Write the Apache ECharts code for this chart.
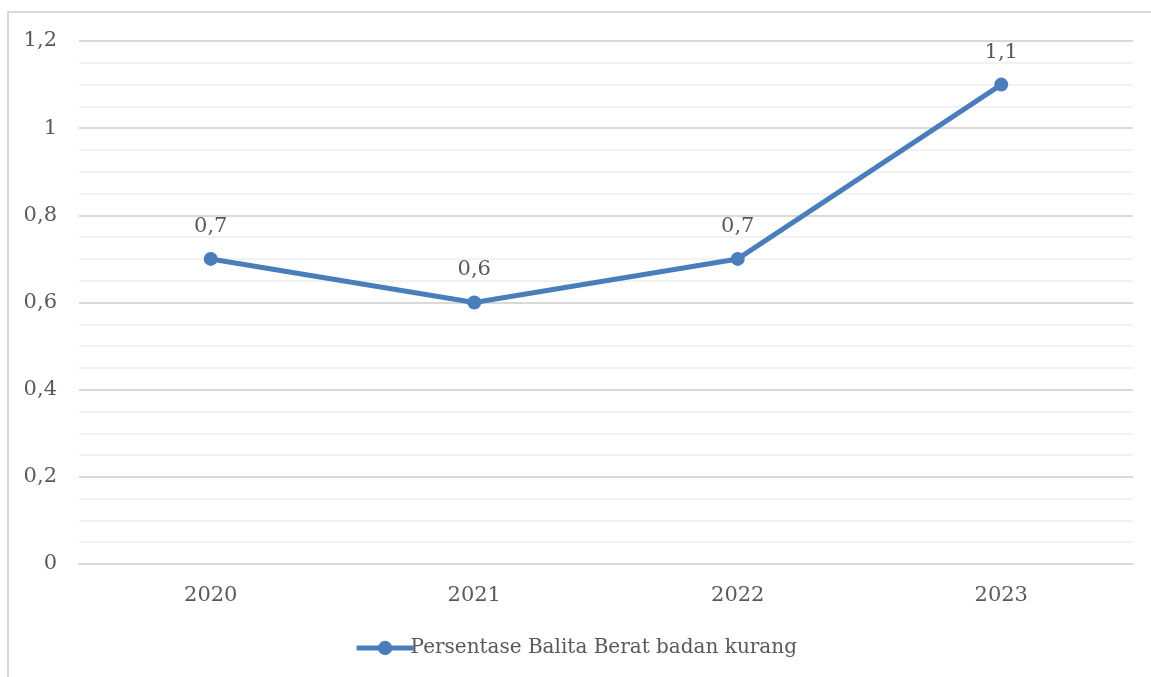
<!DOCTYPE html>
<html>
<head>
<meta charset="utf-8">
<script src="https://cdn.jsdelivr.net/npm/echarts@6/dist/echarts.min.js"></script>
<style>html,body{margin:0;padding:0;background:#fff;}#c{width:1151px;height:677px;}</style>
</head>
<body>
<div id="c"></div>
<script>
const categories = ['2020', '2021', '2022', '2023'];
const seriesName = 'Persentase Balita Berat badan kurang';
const values = [0.7, 0.6, 0.7, 1.1];
const yMin = 0, yMax = 1.2, yStep = 0.2;

const fmt = v => String(+v.toFixed(2)).replace('.', ',');
const FONT = 'DejaVu Serif';
const chart = echarts.init(document.getElementById('c'), null, {renderer: 'canvas'});
chart.setOption({
  animation: false,
  backgroundColor: '#fff',
  textStyle: {fontFamily: FONT},
  graphic: [{
    type: 'rect', shape: {x: 8, y: 12, width: 1160, height: 700},
    style: {fill: 'none', stroke: '#d9d9d9', lineWidth: 2}, silent: true
  }],
  grid: {left: 79, right: 18, top: 41, bottom: 113, containLabel: false},
  legend: {
    bottom: 14, left: 'center',
    itemWidth: 57, itemHeight: 18, itemGap: 10,
    lineStyle: {width: 5, color: '#4a7ebb'},
    itemStyle: {color: '#4a7ebb'},
    textStyle: {fontFamily: FONT, fontSize: 20, color: '#595959', padding: [0, 0, 0, -8]},
    data: [seriesName]
  },
  xAxis: {
    type: 'category', data: categories, boundaryGap: true,
    axisLine: {lineStyle: {color: '#d9d9d9', width: 2}},
    axisTick: {show: false},
    axisLabel: {fontFamily: FONT, fontSize: 21, color: '#595959', margin: 21}
  },
  yAxis: {
    type: 'value', min: yMin, max: yMax, interval: yStep,
    axisLine: {show: false}, axisTick: {show: false},
    axisLabel: {fontFamily: FONT, fontSize: 21, color: '#595959', margin: 22, formatter: fmt},
    splitLine: {lineStyle: {color: '#d9d9d9', width: 2}},
    minorTick: {show: false, splitNumber: 4},
    minorSplitLine: {show: true, lineStyle: {color: '#f2f2f2', width: 2}}
  },
  series: [{
    name: seriesName, type: 'line', data: values,
    symbol: 'circle', symbolSize: 14,
    lineStyle: {color: '#4a7ebb', width: 5},
    itemStyle: {color: '#4a7ebb'},
    label: {show: true, position: 'top', distance: 15, fontFamily: FONT, fontSize: 21, color: '#595959',
      formatter: p => fmt(p.value)}
  }]
});
</script>
</body>
</html>
